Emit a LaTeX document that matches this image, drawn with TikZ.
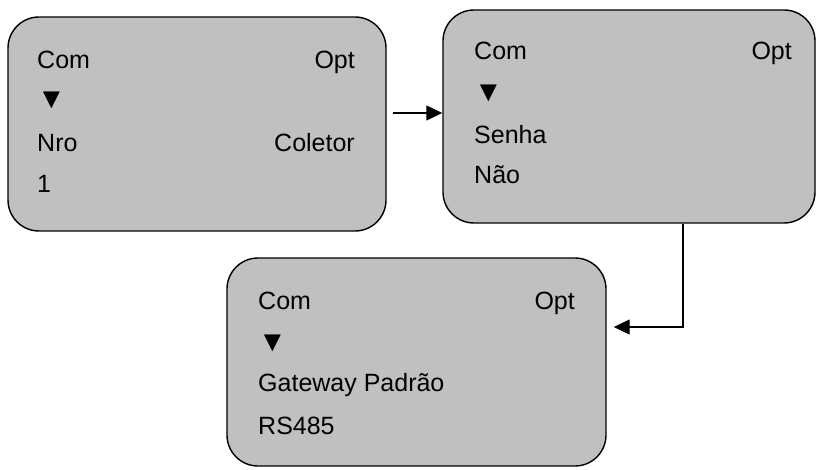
\documentclass[tikz,border=0pt]{standalone}
\usepackage{fontspec}
\setmainfont{Liberation Sans}
\usetikzlibrary{arrows.meta}
\definecolor{scrgray}{RGB}{192,192,192}
\begin{document}
\begin{tikzpicture}[x=1pt,y=-1pt,
  screen/.style={draw=black,line width=1.4pt,fill=scrgray,rounded corners=31pt,inner sep=0pt},
  txt/.style={inner sep=0pt,anchor=base west,font=\fontsize{25}{30}\selectfont},
  txtr/.style={txt,anchor=base east},
  tri/.style={inner sep=0pt,anchor=base west,font=\fontsize{29}{32}\selectfont},
  conn/.style={line width=1.3pt,-{Triangle[length=16pt,width=15pt]}}]
\useasboundingbox (0,0) rectangle (816,470);
% screens
\node[screen,minimum width=378pt,minimum height=214pt] (b1) at (197,124) {};
\node[screen,minimum width=372pt,minimum height=213pt] (b2) at (629,116.5) {};
\node[screen,minimum width=379pt,minimum height=208pt] (b3) at (416.5,362) {};
% box 1 texts
\node[txt]  (t1a) at (37,69)  {Com};
\node[txtr] (t1b) at (355,69) {Opt};
\node[tri]  (t1c) at (37,109) {▼};
\node[txt]  (t1d) at (37,152) {Nro};
\node[txtr] (t1e) at (355,152) {Coletor};
\node[txt]  (t1f) at (37,193) {1};
% box 2 texts
\node[txt]  (t2a) at (474,60)  {Com};
\node[txtr] (t2b) at (792,60)  {Opt};
\node[tri]  (t2c) at (474,102) {▼};
\node[txt]  (t2d) at (474,144) {Senha};
\node[txt]  (t2e) at (474,184) {Não};
% box 3 texts
\node[txt]  (t3a) at (258,309) {Com};
\node[txtr] (t3b) at (575,309) {Opt};
\node[tri]  (t3c) at (258,351) {▼};
\node[txt]  (t3d) at (258,391) {Gateway Padrão};
\node[txt]  (t3e) at (258,434) {RS485};
% connectors
\coordinate (a1s) at ([shift={(6pt,11pt)}]b1.east);
\draw[conn] (a1s) -- (a1s -| b2.west);
\coordinate (a2s) at ([xshift=54pt]b2.south);
\coordinate (a2e) at ([shift={(7pt,35pt)}]b3.east);
\draw[conn] (a2s) |- (a2e);
\end{tikzpicture}
\end{document}
